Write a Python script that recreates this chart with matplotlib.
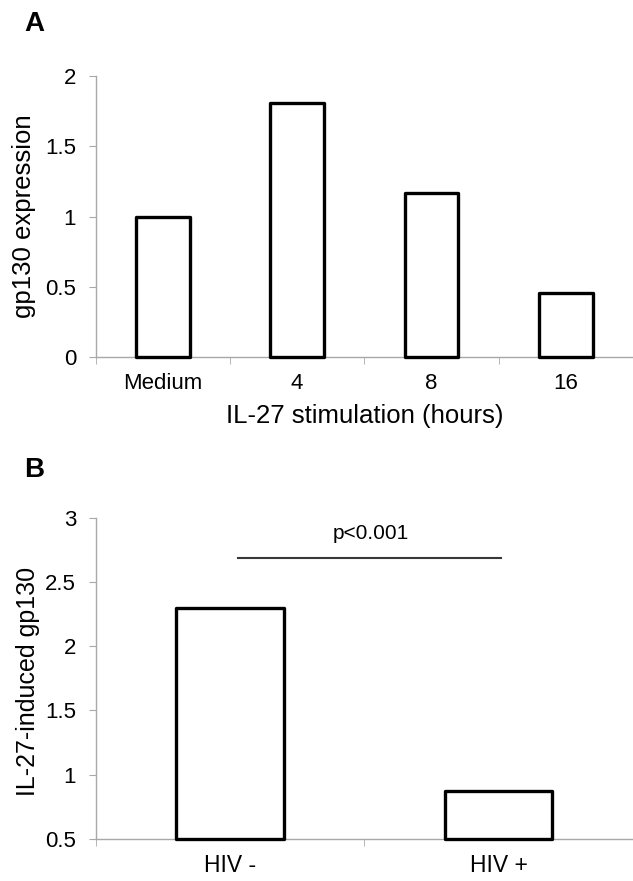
import numpy as np
import matplotlib
matplotlib.use("Agg")
import matplotlib.pyplot as plt

# panel A data
time_labels = ["Medium", "4", "8", "16"]
gp130_expr = [1.0, 1.81, 1.17, 0.455]

# panel B data
hiv_labels = ["HIV -", "HIV +"]
gp130_induced = [2.30, 0.875]
p_text = "p<0.001"
p_line_y = 2.685

plt.rcParams['font.family'] = ['Liberation Sans', 'DejaVu Sans']

axis_grey = '#a8a8a8'

fig = plt.figure(figsize=(6.33, 8.81), dpi=100)
axA = fig.add_axes([0.151, 0.5944, 0.849, 0.3193])
axB = fig.add_axes([0.151, 0.0477, 0.849, 0.3647])


def style_axis(ax, n):
    for s in ['top', 'right']:
        ax.spines[s].set_visible(False)
    for s in ['left', 'bottom']:
        ax.spines[s].set_color(axis_grey)
        ax.spines[s].set_linewidth(1.0)
    ax.set_xlim(-0.5, n - 0.5)
    ax.set_xticks(np.arange(n))
    ax.set_xticks(np.arange(n + 1) - 0.5, minor=True)
    ax.tick_params(axis='x', which='major', length=0, pad=11, labelsize=16)
    ax.tick_params(axis='x', which='minor', length=5, color=axis_grey, direction='out')
    ax.tick_params(axis='y', length=5, color=axis_grey, direction='out', labelsize=16, pad=9)


# ---- A ----
xa = np.arange(len(time_labels))
axA.bar(xa, gp130_expr, width=0.4, color='white', edgecolor='black',
        linewidth=2.4, zorder=3, clip_on=False, joinstyle='round')
style_axis(axA, len(time_labels))
axA.set_ylim(0, 2)
axA.set_yticks([0, 0.5, 1, 1.5, 2])
axA.set_yticklabels(['0', '0.5', '1', '1.5', '2'])
axA.set_xticklabels(time_labels)
axA.set_ylabel('gp130 expression', fontsize=18.5, va='center')
axA.yaxis.set_label_coords(-0.133, 0.5)
axA.set_xlabel('IL-27 stimulation (hours)', fontsize=18.5, va='center')
axA.xaxis.set_label_coords(0.5, -0.207)
fig.text(0.0545, 0.9728, 'A', fontsize=20, fontweight='bold', va='center', ha='center')

# ---- B ----
xb = np.arange(len(hiv_labels))
base = 0.5
axB.bar(xb, np.array(gp130_induced) - base, bottom=base, width=0.4, color='white',
        edgecolor='black', linewidth=2.4, zorder=3, clip_on=False, joinstyle='round')
style_axis(axB, len(hiv_labels))
axB.set_ylim(0.5, 3)
axB.set_yticks([0.5, 1, 1.5, 2, 2.5, 3])
axB.set_yticklabels(['0.5', '1', '1.5', '2', '2.5', '3'])
axB.set_xticklabels(hiv_labels, fontsize=16.5)
axB.tick_params(axis='x', which='major', pad=11)
axB.set_ylabel('IL-27-induced gp130', fontsize=18, va='center')
axB.yaxis.set_label_coords(-0.126, 0.489)
axB.plot([0.03, 1.01], [p_line_y, p_line_y], color='#383838', lw=1.5)
axB.text(0.525, 2.875, p_text, ha='center', va='center', fontsize=15)
fig.text(0.0545, 0.466, 'B', fontsize=20, fontweight='bold', va='center', ha='center')

fig.savefig('out.png', dpi=100)
